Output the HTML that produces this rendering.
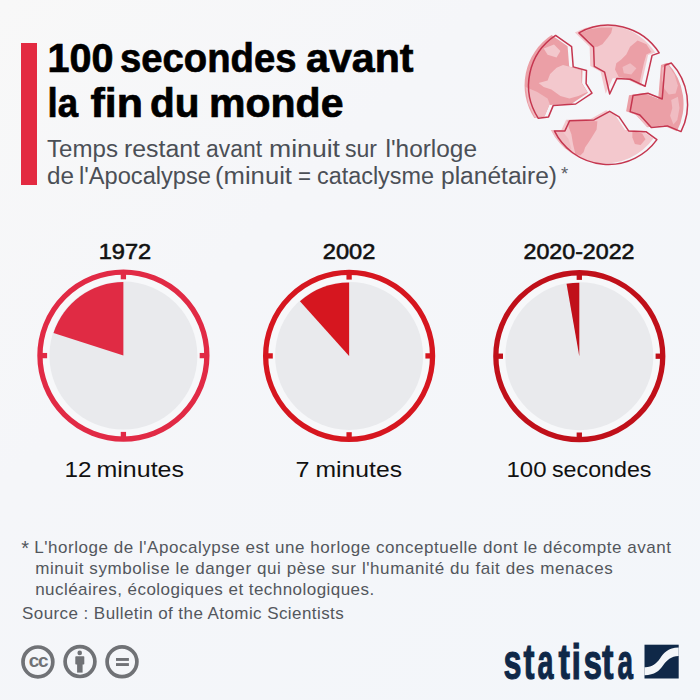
<!DOCTYPE html>
<html><head><meta charset="utf-8"><title>100 secondes avant la fin du monde</title>
<style>
html,body{margin:0;padding:0;}
body{width:700px;height:700px;overflow:hidden;background:#f4f6f9;font-family:"Liberation Sans",Arial,sans-serif;}
svg{display:block;}
text{font-family:"Liberation Sans",Arial,sans-serif;}
</style></head><body>
<svg width="700" height="700" viewBox="0 0 700 700">
<defs>
<linearGradient id="bg" x1="0" y1="0" x2="1" y2="1">
<stop offset="0" stop-color="#f8f8f8"/><stop offset="0.35" stop-color="#f5f6f9"/><stop offset="1" stop-color="#f3f6fa"/>
</linearGradient>
</defs>
<rect width="700" height="700" fill="url(#bg)"/>

<!-- red bar -->
<rect x="21" y="43" width="16" height="142" fill="#e32a41"/>

<!-- title -->
<text y="72" font-size="40" font-weight="700" fill="#000000" stroke="#000000" stroke-width="0.7"><tspan x="47.50" textLength="66.00" lengthAdjust="spacingAndGlyphs">100</tspan> <tspan x="120.00" textLength="176.50" lengthAdjust="spacingAndGlyphs">secondes</tspan> <tspan x="306.00" textLength="107.50" lengthAdjust="spacingAndGlyphs">avant</tspan></text>
<text y="117" font-size="40" font-weight="700" fill="#000000" stroke="#000000" stroke-width="0.7"><tspan x="47.50" textLength="30.50" lengthAdjust="spacingAndGlyphs">la</tspan> <tspan x="90.50" textLength="52.50" lengthAdjust="spacingAndGlyphs">fin</tspan> <tspan x="150.00" textLength="49.50" lengthAdjust="spacingAndGlyphs">du</tspan> <tspan x="209.00" textLength="134.50" lengthAdjust="spacingAndGlyphs">monde</tspan></text>
<text y="157" font-size="23" font-weight="400" fill="#4b4f56"><tspan x="47.00" textLength="71.00" lengthAdjust="spacingAndGlyphs">Temps</tspan> <tspan x="124.00" textLength="76.00" lengthAdjust="spacingAndGlyphs">restant</tspan> <tspan x="206.00" textLength="56.00" lengthAdjust="spacingAndGlyphs">avant</tspan> <tspan x="269.00" textLength="71.00" lengthAdjust="spacingAndGlyphs">minuit</tspan> <tspan x="345.00" textLength="32.00" lengthAdjust="spacingAndGlyphs">sur</tspan> <tspan x="385.50" textLength="91.50" lengthAdjust="spacingAndGlyphs">l&#39;horloge</tspan></text>
<text y="184" font-size="23" font-weight="400" fill="#4b4f56"><tspan x="47.00" textLength="27.00" lengthAdjust="spacingAndGlyphs">de</tspan> <tspan x="79.00" textLength="132.00" lengthAdjust="spacingAndGlyphs">l&#39;Apocalypse</tspan> <tspan x="215.00" textLength="77.00" lengthAdjust="spacingAndGlyphs">(minuit</tspan> <tspan x="298.00" textLength="13.00" lengthAdjust="spacingAndGlyphs">=</tspan> <tspan x="317.00" textLength="117.00" lengthAdjust="spacingAndGlyphs">cataclysme</tspan> <tspan x="441.00" textLength="116.00" lengthAdjust="spacingAndGlyphs">planétaire)</tspan></text>
<text y="476.7" font-size="22.3" font-weight="400" fill="#111111"><tspan x="64.50" textLength="27.00" lengthAdjust="spacingAndGlyphs">12</tspan> <tspan x="96.50" textLength="87.50" lengthAdjust="spacingAndGlyphs">minutes</tspan></text>
<text y="476.7" font-size="22.3" font-weight="400" fill="#111111"><tspan x="295.50" textLength="14.00" lengthAdjust="spacingAndGlyphs">7</tspan> <tspan x="315.50" textLength="86.50" lengthAdjust="spacingAndGlyphs">minutes</tspan></text>
<text y="476.7" font-size="22.3" font-weight="400" fill="#111111"><tspan x="506.50" textLength="40.00" lengthAdjust="spacingAndGlyphs">100</tspan> <tspan x="552.00" textLength="99.50" lengthAdjust="spacingAndGlyphs">secondes</tspan></text>
<text y="678.8" font-size="50" font-weight="700" fill="#0f2848" stroke="#0f2848" stroke-width="1.1"><tspan x="503.50" textLength="18.00" lengthAdjust="spacingAndGlyphs">s</tspan><tspan x="523.50" textLength="11.00" lengthAdjust="spacingAndGlyphs">t</tspan><tspan x="537.50" textLength="16.00" lengthAdjust="spacingAndGlyphs">a</tspan><tspan x="558.50" textLength="11.50" lengthAdjust="spacingAndGlyphs">t</tspan><tspan x="571.50" textLength="9.50" lengthAdjust="spacingAndGlyphs">i</tspan><tspan x="583.50" textLength="18.50" lengthAdjust="spacingAndGlyphs">s</tspan><tspan x="602.00" textLength="11.50" lengthAdjust="spacingAndGlyphs">t</tspan><tspan x="617.50" textLength="15.50" lengthAdjust="spacingAndGlyphs">a</tspan></text>
<text x="561" y="179.6" font-size="18.5" fill="#5d6168">*</text>

<!-- globe -->
<g id="globe">
 <defs>
  <clipPath id="cA"><path d="M555.6,35.4 L571.6,46.6 L573.2,66.9 L586.5,70.5 L586.1,83.6 L592,93.1 L575.7,104 L553.3,105.4 L548.5,116.9 L538.3,118.3 A60,60 0 0 1 555.6,35.4 Z"/></clipPath>
  <clipPath id="cB"><path d="M578.9,32.9 A60.5,60.5 0 0 1 659.2,52.9 L652.1,55.4 L645.1,86.3 L630.3,79.2 L616.8,78.6 L609.7,94 L604.6,72.1 L594.3,66.4 L593.6,47.1 Z"/></clipPath>
  <clipPath id="cC"><path d="M671.3,63 L665,65.3 L662.2,99 L647.9,93.3 L633,95.6 L630.1,111.6 L639.9,115 L651.3,127.6 L667.3,125.9 L681,131.6 A60.3,60.3 0 0 0 671.3,63 Z"/></clipPath>
  <clipPath id="cD"><path d="M554.4,130.9 L564.9,130.9 L569.6,120.7 L594,119.9 L609.7,111.3 L619.1,116.8 L628.6,130.9 L645.9,131.7 L656.9,139.6 A60,60 0 0 1 554.4,130.9 Z"/></clipPath>
 </defs>
 <g transform="translate(-4,-0.3)">
  <g clip-path="url(#cA)"><rect x="520" y="30" width="80" height="95" fill="#eb9fa6"/><path d="M542.6,83.4 L551.6,80.9 L554.1,74.4 L560.6,68 L567,65.4 L572.8,66.7 L585,70.6 L585.6,83.4 L591.4,92.4 L582.4,96.3 L573.4,98.9 L564.4,96.3 L555.4,89.9 L547.7,87.3Z" fill="#f3c8cd"/><path d="M529.7,87.3 L541.3,92.4 L551.6,98.9 L554.1,105.3 L549,116.2 L538.7,117.5 L532.3,104Z" fill="#f0bcc2"/><path d="M547.7,48.7 L558,44.9 L564.4,51.3 L560.6,57.7 L551.6,55.1Z" fill="#f3c8cd"/></g>
  <g clip-path="url(#cB)"><rect x="570" y="20" width="95" height="80" fill="#f3c8cd"/><path d="M583.8,33.3 L593.9,29.5 L605.2,27.7 L616.5,27.7 L615.2,33.3 L611.5,38.3 L606.4,44.6 L601.4,47.1 L596.4,47.1 L593.9,42.1Z" fill="#eb9fa6"/><path d="M634.1,47.1 L641.6,40.9 L650.4,44.6 L655.5,52.2 L650.4,54.7 L647.9,63.5 L645.4,74.8 L643.5,83.6 L635.3,81.1 L629.1,78.6 L622.8,77.3 L619,69.8 L620.3,63.5 L625.3,59.7 L630.3,54.7Z" fill="#eb9fa6"/><path d="M626.5,67.3 L634.1,63.5 L640.4,68.5 L635.3,74.8 L627.8,73.5Z" fill="#f0bcc2"/></g>
  <g clip-path="url(#cC)"><rect x="625" y="55" width="70" height="85" fill="#eb9fa6"/><path d="M666.2,68 L671.8,64.7 L678.5,74.7 L681.9,85.9 L679.6,93.7 L672.9,94.8 L668.5,89.2 L666.2,80.3Z" fill="#f0bcc2"/><path d="M675.2,100.4 L681.9,97 L683.5,108.2 L681.3,120.4 L677.4,124.9 L674.1,116 L676.3,108.2Z" fill="#f0bcc2"/><path d="M632.8,110.4 L639.5,113.7 L648.4,120.4 L652.9,127.1 L647.3,127.1 L638.4,118.2Z" fill="#f0bcc2"/></g>
 </g>
 <g transform="translate(-3.5,-1)">
  <g clip-path="url(#cD)"><rect x="545" y="105" width="120" height="65" fill="#f3c8cd"/><path d="M552,131 L565,131 L572,140 L575,150 L566,150 L556,140Z" fill="#f0bcc2"/><path d="M570.8,121.5 L600.9,122.3 L600.1,130.4 L595.2,138.6 L592,143.5 L588.7,148.3 L587.1,153.2 L583.8,156.5 L578.9,154.9 L576.5,145.1 L574.9,135.3 L572.4,128.8Z" fill="#eb9fa6"/><path d="M635.9,132.1 L645.7,134.5 L649,140.2 L644.1,145.9 L638.4,145.1 L635.9,138.6Z" fill="#eb9fa6"/></g>
 </g>
 <g fill="none" stroke="#c5364f" stroke-width="1.5" stroke-linejoin="round">
  <path d="M555.6,35.4 L571.6,46.6 L573.2,66.9 L586.5,70.5 L586.1,83.6 L592,93.1 L575.7,104 L553.3,105.4 L548.5,116.9 L538.3,118.3 A60,60 0 0 1 555.6,35.4 Z"/><path d="M578.9,32.9 A60.5,60.5 0 0 1 659.2,52.9 L652.1,55.4 L645.1,86.3 L630.3,79.2 L616.8,78.6 L609.7,94 L604.6,72.1 L594.3,66.4 L593.6,47.1 Z"/><path d="M671.3,63 L665,65.3 L662.2,99 L647.9,93.3 L633,95.6 L630.1,111.6 L639.9,115 L651.3,127.6 L667.3,125.9 L681,131.6 A60.3,60.3 0 0 0 671.3,63 Z"/><path d="M554.4,130.9 L564.9,130.9 L569.6,120.7 L594,119.9 L609.7,111.3 L619.1,116.8 L628.6,130.9 L645.9,131.7 L656.9,139.6 A60,60 0 0 1 554.4,130.9 Z"/>
 </g>
</g>

<!-- years -->
<g font-size="22.6" font-weight="400" fill="#111" stroke="#111" stroke-width="0.6" text-anchor="middle">
<text x="125" y="259.4" textLength="52.5" lengthAdjust="spacingAndGlyphs">1972</text>
<text x="349.1" y="259.4" textLength="52.5" lengthAdjust="spacingAndGlyphs">2002</text>
<text x="579" y="259.4" textLength="111" lengthAdjust="spacingAndGlyphs">2020-2022</text>
</g>

<!-- clock 1 -->
<g>
 <circle cx="123.4" cy="355.6" r="83.45" fill="#f7f8fa" stroke="#e12a45" stroke-width="5.3"/>
 <circle cx="123.4" cy="355.6" r="74" fill="#e9eaed"/>
 <path d="M123.4,355.6 L123.4,282.10 A73.5,73.5 0 0 0 53.50,332.89 Z" fill="#e02b44"/>
 <g fill="#e12a45">
  <rect x="120.75" y="272.15" width="5.3" height="7.15"/>
  <rect x="120.75" y="431.90" width="5.3" height="7.15"/>
  <rect x="39.95" y="352.95" width="7.15" height="5.3"/>
  <rect x="199.70" y="352.95" width="7.15" height="5.3"/>
 </g>
</g>
<!-- clock 2 -->
<g>
 <circle cx="349.1" cy="355.9" r="83.45" fill="#f7f8fa" stroke="#d6161f" stroke-width="5.3"/>
 <circle cx="349.1" cy="355.9" r="74" fill="#e9eaed"/>
 <path d="M349.1,355.9 L349.1,282.40 A73.5,73.5 0 0 0 299.92,301.28 Z" fill="#d6161f"/>
 <g fill="#d6161f">
  <rect x="346.45" y="272.45" width="5.3" height="7.15"/>
  <rect x="346.45" y="432.20" width="5.3" height="7.15"/>
  <rect x="265.65" y="353.25" width="7.15" height="5.3"/>
  <rect x="425.40" y="353.25" width="7.15" height="5.3"/>
 </g>
</g>
<!-- clock 3 -->
<g>
 <circle cx="579.3" cy="356.2" r="83.45" fill="#f7f8fa" stroke="#c0101a" stroke-width="5.3"/>
 <circle cx="579.3" cy="356.2" r="74" fill="#e9eaed"/>
 <path d="M579.3,356.2 L579.3,282.70 A73.5,73.5 0 0 0 566.54,283.82 Z" fill="#c0101a"/>
 <g fill="#c0101a">
  <rect x="576.65" y="272.75" width="5.3" height="7.15"/>
  <rect x="576.65" y="432.50" width="5.3" height="7.15"/>
  <rect x="495.85" y="353.55" width="7.15" height="5.3"/>
  <rect x="655.60" y="353.55" width="7.15" height="5.3"/>
 </g>
</g>

<!-- footnote -->
<g font-size="17" fill="#53575d">
 <text x="21.2" y="554.9" font-size="20">*</text>
 <text x="34.3" y="552.5" textLength="636.6" lengthAdjust="spacing">L'horloge de l'Apocalypse est une horloge conceptuelle dont le décompte avant</text>
 <text x="35.2" y="574" textLength="577.5" lengthAdjust="spacing">minuit symbolise le danger qui pèse sur l'humanité du fait des menaces</text>
 <text x="35.2" y="594.8" textLength="339" lengthAdjust="spacing">nucléaires, écologiques et technologiques.</text>
 <text x="22" y="618.8" textLength="321.7" lengthAdjust="spacing">Source : Bulletin of the Atomic Scientists</text>
</g>

<!-- CC icons -->
<g fill="none" stroke="#707276" stroke-width="3.7">
 <circle cx="37.9" cy="661.9" r="14.9"/>
 <circle cx="80" cy="661.6" r="14.9"/>
 <circle cx="122" cy="661.8" r="14.9"/>
</g>
<text x="38" y="666.9" font-size="19" font-weight="700" fill="#707276" text-anchor="middle" letter-spacing="-1.2">cc</text>
<g fill="#707276">
 <circle cx="79.7" cy="652.9" r="2.3"/>
 <rect x="75.3" y="656.3" width="9" height="8.2" rx="0.8"/>
 <rect x="77.1" y="663" width="5.5" height="9.6"/>
 <rect x="116" y="658" width="12.9" height="2.9"/>
 <rect x="116" y="663.1" width="12.9" height="2.9"/>
</g>

<!-- statista logo -->
<rect x="644.5" y="644.7" width="34.2" height="33.8" fill="#0f2848"/>
<path d="M644.5,667.2 C652,667.5 656,664 660,658.5 C664,652.5 668,648 678.7,647.5 L678.7,656 C671,656.3 667,660 663,665.5 C659,671 655,675 644.5,675.2 Z" fill="#f3f6f9"/>
</svg>
</body></html>
